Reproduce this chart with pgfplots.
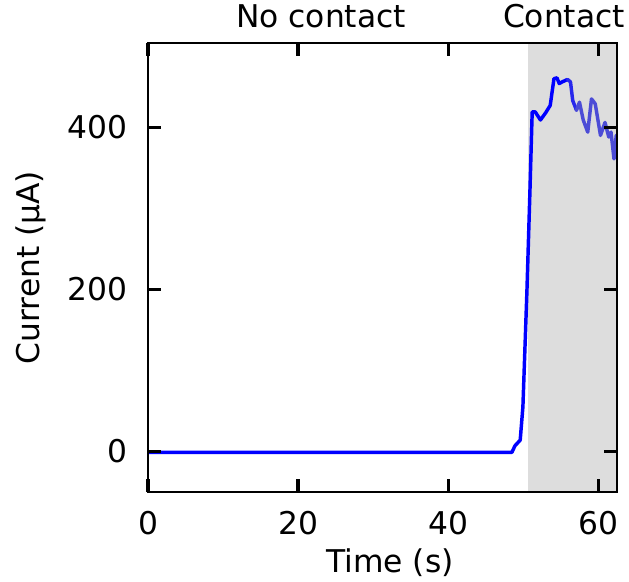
\documentclass[border=0pt]{standalone}
\usepackage{fontspec}
\setmainfont{DejaVu Sans}
\usepackage{pgfplots}
\pgfplotsset{compat=1.18}

\definecolor{lineblue}{RGB}{0,0,255}
\definecolor{linemid}{RGB}{40,40,236}
\definecolor{linefade}{RGB}{76,76,214}
\definecolor{shade}{RGB}{221,221,221}

\begin{document}
\fontsize{23.5}{28}\selectfont
\begin{tikzpicture}[x=0.75pt,y=0.75pt]
% fixed canvas: 629 x 582 units, axis box at (148..617) x (43..492) measured from the top-left
\useasboundingbox (-148,-90) rectangle (481,492);
\begin{axis}[
  at={(0,0)}, anchor=south west,
  scale only axis,
  width=351.75pt, height=336.75pt,
  xmin=0, xmax=62.5,
  ymin=-50, ymax=504,
  xtick={0,20,40,60},
  ytick={0,200,400},
  tick align=inside,
  major tick length=9.5pt,
  every tick/.style={line width=2.4pt, black},
  axis line style={line width=1.6pt, black},
  axis on top,
  /pgf/number format/assume math mode=true,
  xticklabel style={anchor=base, inner sep=0pt, yshift=-32pt},
  yticklabel style={anchor=east, inner sep=0pt, xshift=-15pt},
  every axis x label/.style={at={(axis description cs:0.516,-0.158)}, anchor=center},
  every axis y label/.style={at={(axis description cs:-0.2495,0.5)}, rotate=90, anchor=center},
  xlabel={Time (s)},
  ylabel={Current (μA)},
  clip=true,
]
% shaded contact window
\addplot[fill=shade, draw=none] coordinates {(50.6,-50) (50.6,504) (62.5,504) (62.5,-50)} -- cycle;

% current trace
\addplot[lineblue, line width=2.6pt, line join=round, line cap=round] coordinates {
  (0,-1) (48.5,-1) (48.9,7) (49.6,14) (49.96,55) (50.5,199) (50.9,322)
  (51.15,404) (51.2,419) (51.6,419) (52.3,409) (53.0,418) (53.6,427)
  (54.1,460) (54.5,461) (54.8,454) (55.2,456) (55.9,459)
};
\addplot[linemid, line width=2.6pt, line join=round, line cap=round] coordinates {
  (55.9,459) (56.3,456) (56.6,433) (57.1,421)
};
\addplot[linefade, line width=2.6pt, line join=round, line cap=round] coordinates {
  (57.1,421) (57.5,431) (58.0,409) (58.6,394) (59.1,435) (59.6,429)
  (60.3,390) (60.9,406) (61.4,388) (61.7,394) (62.1,361) (62.4,390) (62.6,385)
};
\end{axis}
% region captions above the axis
\node[anchor=base] at (173,464) {No contact};
\node[anchor=base] at (416,464) {Contact};
\end{tikzpicture}
\end{document}
